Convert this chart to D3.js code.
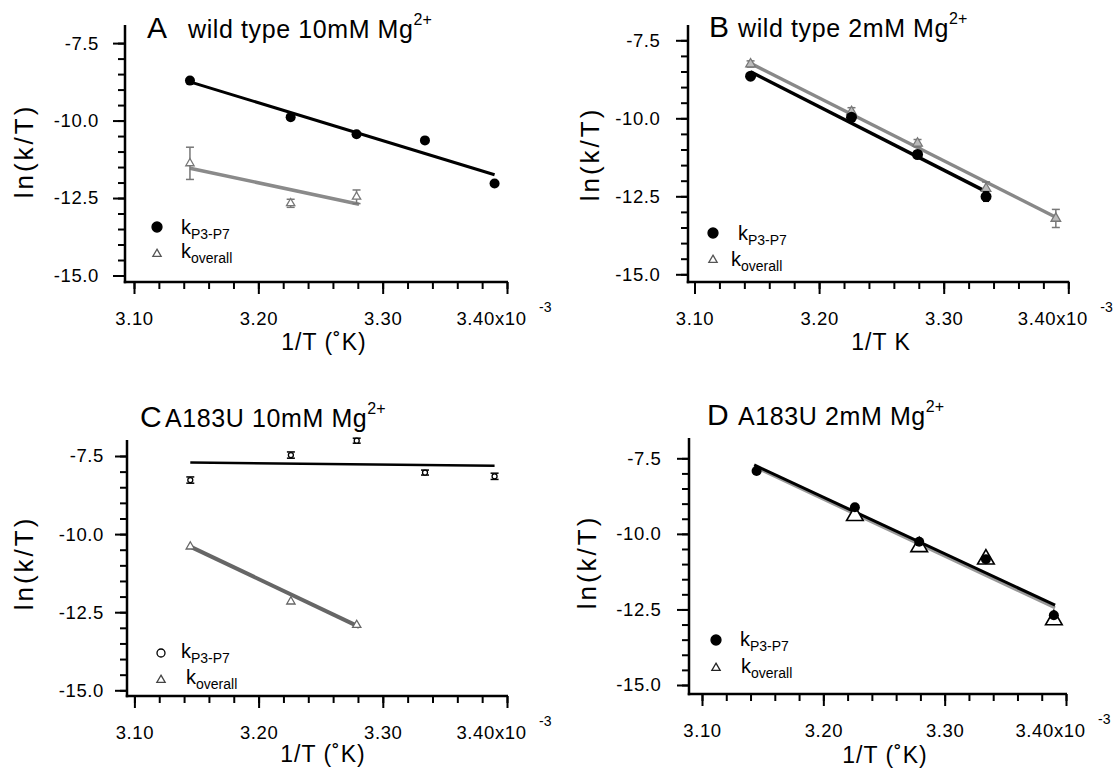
<!DOCTYPE html>
<head>
  <meta charset="utf-8">
  <script src="https://d3js.org/d3.v7.min.js"></script>
  <style>
    body { margin:0; background:#fff; }
    svg { font-family: "Liberation Sans", Arial, Helvetica, sans-serif; }
    .axis path { display:none; }
    .axis line { stroke:#000; stroke-width:2px; }
    .axis text { font-size:18.5px; fill:#000; letter-spacing:0.6px; font-family: "Liberation Sans", Arial, sans-serif; }
  </style>
</head>

<body>
  <script>
    // x values: 1/T (x10^-3)
    var invT = [3.145, 3.226, 3.279, 3.334, 3.390];
    var xMajor = [3.10, 3.20, 3.30, 3.40];
    var xTickLabels = ["3.10", "3.20", "3.30", "3.40x10"];
    var yMajor = [-7.5, -10.0, -12.5, -15.0];
    var yTickLabels = ["-7.5", "-10.0", "-12.5", "-15.0"];

    // A wild type 10mM
    var aP3P7 = [-8.71, -9.89, -10.44, -10.64, -12.03];
    var aOverallT = [3.145, 3.226, 3.279];
    var aOverall = [-11.38, -12.67, -12.46];
    var aOverallErr = [0.52, 0.13, 0.22];
    var aFitP3P7 = [[3.145, -8.75], [3.390, -11.75]];
    var aFitOverall = [[3.145, -11.54], [3.281, -12.70]];

    // B wild type 2mM
    var bP3P7T = [3.145, 3.226, 3.279, 3.334];
    var bP3P7 = [-8.65, -9.97, -11.16, -12.51];
    var bP3P7Err = [0, 0.05, 0.1, 0.15];
    var bOverall = [-8.26, -9.79, -10.80, -12.25, -13.21];
    var bOverallErr = [0.1, 0.13, 0.12, 0.21, 0.29];
    var bFitP3P7 = [[3.145, -8.51], [3.334, -12.35]];
    var bFitOverall = [[3.145, -8.24], [3.390, -13.17]];

    // C A183U 10mM
    var cP3P7 = [-8.27, -7.47, -7.01, -8.03, -8.15];
    var cP3P7Err = [0.1, 0.1, 0.08, 0.08, 0.1];
    var cOverallT = [3.145, 3.226, 3.279];
    var cOverall = [-10.40, -12.16, -12.91];
    var cFitP3P7 = [[3.145, -7.71], [3.390, -7.81]];
    var cFitOverall = [[3.145, -10.40], [3.281, -12.97]];

    // D A183U 2mM
    var dP3P7 = [-7.92, -9.12, -10.26, -10.84, -12.69];
    var dOverallT = [3.226, 3.279, 3.334, 3.390];
    var dOverall = [-9.40, -10.43, -10.84, -12.85];
    var dFitP3P7 = [[3.143, -7.72], [3.391, -12.36]];
    var dFitOverall = [[3.143, -7.78], [3.391, -12.45]];

    var xMinor = d3.range(3.10, 3.401, 0.02);
    var yMinor = d3.range(-15.0, -7.49, 0.5);

    var panels = [
      { letter: "A", title: "wild type 10mM Mg", xlab: "1/T (\u02DAK)",
        left: 125, top: 25, bottom: 282, x0: 134, x1: 507, y0: 43.1, y1: 275.5, yPad: 14,
        letterX: 147, textX: 188, titleY: 38, xlabX: 324, xlabY: 350, ylabX: 24, ylabY: 151,
        fits: [{ d: aFitOverall, c: "#8a8a8a", w: 3.5 }, { d: aFitP3P7, c: "#000", w: 3 }],
        tri: { t: aOverallT, v: aOverall, e: aOverallErr, size: 30, stroke: "#777", fill: "#fff" },
        dots: { t: invT, v: aP3P7, r: 5, fill: "#000" },
        leg: { cx: 157, cy1: 227, cy2: 254, tx1: 181, ty1: 234, tx2: 181, ty2: 258, fill: "#000", triStroke: "#555", triSize: 30 } },
      { letter: "B", title: "wild type 2mM Mg", xlab: "1/T K",
        left: 688, top: 25, bottom: 282, x0: 694.5, x1: 1068.3, y0: 40.3, y1: 274.3, yPad: 15.5,
        letterX: 709, textX: 738, titleY: 37, xlabX: 881, xlabY: 350, ylabX: 590, ylabY: 154,
        fits: [{ d: bFitP3P7, c: "#000", w: 3.5 }, { d: bFitOverall, c: "#888", w: 3.5 }],
        dots: { t: bP3P7T, v: bP3P7, e: bP3P7Err, r: 5.5, fill: "#000" },
        tri: { t: invT, v: bOverall, e: bOverallErr, size: 40, stroke: "#777", fill: "#bbb" },
        leg: { cx: 713, cy1: 233, cy2: 260, tx1: 738, ty1: 240, tx2: 731, ty2: 266, fill: "#000", triStroke: "#555", triSize: 30 } },
      { letter: "C", title: "A183U 10mM Mg", xlab: "1/T (\u02DAK)",
        left: 127, top: 440, bottom: 696, x0: 134.4, x1: 507, y0: 456, y1: 690.3, yPad: 11,
        letterX: 140, textX: 165, titleY: 427, xlabX: 323, xlabY: 762, ylabX: 24, ylabY: 563,
        fits: [{ d: cFitP3P7, c: "#000", w: 2.5 }, { d: cFitOverall, c: "#666", w: 4 }],
        dots: { t: invT, v: cP3P7, e: cP3P7Err, r: 2.5, fill: "#fff", stroke: "#000", cap: 4 },
        tri: { t: cOverallT, v: cOverall, size: 30, stroke: "#666", fill: "#fff" },
        leg: { cx: 161, cy1: 653, cy2: 680, tx1: 181, ty1: 658, tx2: 186, ty2: 684, fill: "#fff", triStroke: "#444", triSize: 30 } },
      { letter: "D", title: "A183U 2mM Mg", xlab: "1/T (\u02DAK)",
        left: 689, top: 438, bottom: 694, x0: 702, x1: 1066, y0: 458.3, y1: 685, yPad: 15.5,
        letterX: 707, textX: 738, titleY: 425, xlabX: 885, xlabY: 763, ylabX: 587, ylabY: 562,
        fits: [{ d: dFitOverall, c: "#999", w: 3 }, { d: dFitP3P7, c: "#000", w: 3 }],
        tri: { t: dOverallT, v: dOverall, size: 120, stroke: "#000", fill: "#fff", sw: 1.6 },
        dots: { t: invT, v: dP3P7, r: 5, fill: "#000" },
        leg: { cx: 716, cy1: 640, cy2: 668, tx1: 740, ty1: 646, tx2: 741, ty2: 673, fill: "#000", triStroke: "#222", triSize: 30 } }
    ];

    var svg = d3.select("body").append("svg")
      .attr("width", 1114)
      .attr("height", 772);

    panels.forEach(function(p) {
      var x = d3.scaleLinear().domain([3.10, 3.40]).range([p.x0, p.x1]);
      var y = d3.scaleLinear().domain([-7.5, -15.0]).range([p.y0, p.y1]);
      var g = svg.append("g");

      // axis lines
      g.append("line").attr("x1", p.left).attr("x2", p.left).attr("y1", p.top).attr("y2", p.bottom + 1.25)
        .attr("stroke", "#000").attr("stroke-width", 2.5);
      g.append("line").attr("x1", p.left - 1.25).attr("x2", p.x1 + 1).attr("y1", p.bottom).attr("y2", p.bottom)
        .attr("stroke", "#000").attr("stroke-width", 2.5);

      g.append("g").attr("class", "axis").attr("transform", "translate(0," + p.bottom + ")")
        .call(d3.axisBottom(x).tickValues(xMinor).tickSize(7).tickFormat(""));
      var xa = g.append("g").attr("class", "axis").attr("transform", "translate(0," + p.bottom + ")")
        .call(d3.axisBottom(x).tickValues(xMajor).tickSize(12).tickPadding(18)
          .tickFormat(function(d, i) { return xTickLabels[i]; }));
      xa.selectAll("text").filter(function(d, i) { return i === 3; }).attr("x", -16);
      g.append("text").attr("x", p.x1 + 32).attr("y", p.bottom + 30)
        .attr("font-size", 14).text("-3");

      g.append("g").attr("class", "axis").attr("transform", "translate(" + p.left + ",0)")
        .call(d3.axisLeft(y).tickValues(yMinor).tickSize(7).tickFormat(""));
      g.append("g").attr("class", "axis").attr("transform", "translate(" + p.left + ",0)")
        .call(d3.axisLeft(y).tickValues(yMajor).tickSize(12).tickPadding(p.yPad)
          .tickFormat(function(d, i) { return yTickLabels[i]; }));

      // titles
      g.append("text").attr("x", p.letterX).attr("y", p.titleY).attr("font-size", 30).text(p.letter);
      var tt = g.append("text").attr("x", p.textX).attr("y", p.titleY).attr("font-size", 25)
        .attr("letter-spacing", 0.6);
      tt.append("tspan").text(p.title);
      tt.append("tspan").attr("dy", -13).attr("font-size", 16).attr("letter-spacing", 0).text("2+");

      g.append("text").attr("x", p.xlabX).attr("y", p.xlabY).attr("text-anchor", "middle")
        .attr("font-size", 23).attr("letter-spacing", 1).text(p.xlab);
      g.append("text").attr("transform", "translate(" + p.ylabX + "," + p.ylabY + ") rotate(-90)")
        .attr("text-anchor", "middle").attr("dy", "0.35em")
        .attr("font-size", 26).attr("letter-spacing", 3).text("ln(k/T)");

      // fit lines
      var line = d3.line().x(function(d) { return x(d[0]); }).y(function(d) { return y(d[1]); });
      p.fits.forEach(function(f) {
        g.append("path").attr("d", line(f.d)).attr("fill", "none")
          .attr("stroke", f.c).attr("stroke-width", f.w);
      });

      // triangles
      var tri = p.tri;
      var tg = g.append("g");
      if (tri.e) {
        tri.t.forEach(function(t, i) {
          var e = tri.e[i];
          if (!e) return;
          var cx = x(t);
          tg.append("line").attr("x1", cx).attr("x2", cx).attr("y1", y(tri.v[i] + e)).attr("y2", y(tri.v[i] - e))
            .attr("stroke", tri.stroke).attr("stroke-width", 1.5);
          [tri.v[i] + e, tri.v[i] - e].forEach(function(v) {
            tg.append("line").attr("x1", cx - 4).attr("x2", cx + 4).attr("y1", y(v)).attr("y2", y(v))
              .attr("stroke", tri.stroke).attr("stroke-width", 1.5);
          });
        });
      }
      tg.selectAll("path").data(tri.t).enter().append("path")
        .attr("transform", function(d, i) { return "translate(" + x(d) + "," + y(tri.v[i]) + ")"; })
        .attr("d", d3.symbol(d3.symbolTriangle).size(tri.size))
        .attr("fill", tri.fill).attr("stroke", tri.stroke).attr("stroke-width", tri.sw || 1.3);

      // circles
      var dots = p.dots;
      var dg = g.append("g");
      if (dots.e) {
        dots.t.forEach(function(t, i) {
          var e = dots.e[i];
          if (!e) return;
          var cx = x(t), cap = dots.cap || 3;
          dg.append("line").attr("x1", cx).attr("x2", cx).attr("y1", y(dots.v[i] + e)).attr("y2", y(dots.v[i] - e))
            .attr("stroke", "#000").attr("stroke-width", 1.5);
          [dots.v[i] + e, dots.v[i] - e].forEach(function(v) {
            dg.append("line").attr("x1", cx - cap).attr("x2", cx + cap).attr("y1", y(v)).attr("y2", y(v))
              .attr("stroke", "#000").attr("stroke-width", 1.5);
          });
        });
      }
      dg.selectAll("circle").data(dots.t).enter().append("circle")
        .attr("cx", function(d) { return x(d); })
        .attr("cy", function(d, i) { return y(dots.v[i]); })
        .attr("r", dots.r)
        .attr("fill", dots.fill).attr("stroke", dots.stroke || "none").attr("stroke-width", 1.3);

      // legend
      var L = p.leg;
      g.append("circle").attr("cx", L.cx).attr("cy", L.cy1).attr("r", L.fill === "#fff" ? 4 : 5)
        .attr("fill", L.fill).attr("stroke", "#000").attr("stroke-width", 1.3);
      g.append("path").attr("transform", "translate(" + L.cx + "," + L.cy2 + ")")
        .attr("d", d3.symbol(d3.symbolTriangle).size(L.triSize)())
        .attr("fill", "#fff").attr("stroke", L.triStroke).attr("stroke-width", 1.3);
      var l1 = g.append("text").attr("x", L.tx1).attr("y", L.ty1).attr("font-size", 20);
      l1.append("tspan").text("k");
      l1.append("tspan").attr("dy", 5).attr("font-size", 14).text("P3-P7");
      var l2 = g.append("text").attr("x", L.tx2).attr("y", L.ty2).attr("font-size", 20);
      l2.append("tspan").text("k");
      l2.append("tspan").attr("dy", 5).attr("font-size", 14).text("overall");
    });
  </script>
</body>
